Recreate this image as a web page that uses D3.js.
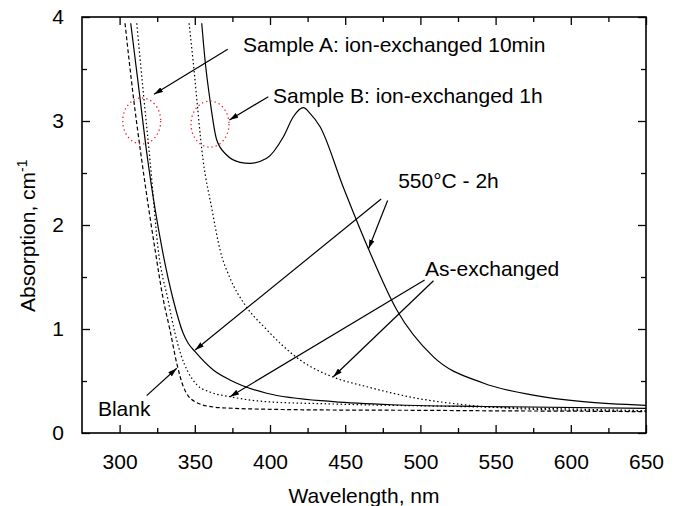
<!DOCTYPE html>
<html>
<head>
<meta charset="utf-8">
<script src="https://cdn.jsdelivr.net/npm/d3@7"></script>
<style>
  body { margin: 0; background: #fff; }
  svg { display: block; font-family: "Liberation Sans", Arial, sans-serif; }
</style>
</head>
<body>
<svg></svg>
<script>
// wavelength (nm) / absorption (cm-1)
const blankNm = [303.6, 309, 314.7, 323.6, 329.1, 333.5, 338, 342.4, 350.2, 362.3, 375.6, 400, 442, 500, 550, 600, 650];
const blankAbs = [3.94, 3.25, 2.625, 1.76, 1.279, 0.99, 0.67, 0.445, 0.30, 0.25, 0.2375, 0.228, 0.221, 0.218, 0.213, 0.21, 0.205];

const aAsNm = [311.4, 315.6, 320.2, 325.7, 332.2, 336.8, 340.8, 345.5, 351.5, 360.1, 373.4, 397.8, 442, 530.9, 650];
const aAsAbs = [3.94, 3.298, 2.625, 1.76, 1.279, 0.962, 0.75, 0.587, 0.462, 0.394, 0.349, 0.301, 0.279, 0.253, 0.214];

const aHeatNm = [307.4, 312.9, 318.7, 328.4, 335.7, 342.2, 345.5, 350.2, 362.3, 373.4, 397.8, 442.1, 486.5, 541.7, 650];
const aHeatAbs = [3.94, 3.298, 2.625, 1.76, 1.279, 0.962, 0.865, 0.782, 0.606, 0.51, 0.382, 0.301, 0.269, 0.255, 0.2375];

const bAsNm = [346.2, 348.8, 355.5, 361.5, 366.8, 373.4, 383.4, 396.7, 420, 441.9, 464.4, 497.6, 530.9, 575, 650];
const bAsAbs = [3.94, 3.587, 2.625, 2.144, 1.76, 1.49, 1.231, 1.01, 0.702, 0.538, 0.445, 0.334, 0.269, 0.228, 0.209];

const bHeatNm = [354.6, 356.8, 360.1, 364.6, 371.2, 380.1, 386.7, 397.8, 408.9, 415.5, 422.2, 426.6, 433.3, 448.6, 465.2, 484.3, 508.5, 541.7, 575, 608.2, 650];
const bHeatAbs = [3.94, 3.587, 3.202, 2.817, 2.673, 2.603, 2.593, 2.641, 2.849, 3.041, 3.128, 3.074, 2.945, 2.368, 1.779, 1.183, 0.734, 0.481, 0.365, 0.301, 0.266];

const xTicks = [300, 350, 400, 450, 500, 550, 600, 650];
const xMinorTicks = [325, 375, 425, 475, 525, 575, 625];
const yTicks = [0, 1, 2, 3, 4];
const yMinorTicks = [0.5, 1.5, 2.5, 3.5];

// annotation text and arrows, in data units
const labelText = ['Sample A: ion-exchanged 10min', 'Sample B: ion-exchanged 1h', '550\u00B0C - 2h', 'As-exchanged', 'Blank'];
const labelPos = [[382.1, 3.663], [402, 3.173], [485.2, 2.356], [503.1, 1.51], [285.6, 0.163]];
const arrowFrom = [[371.9, 3.689], [398.9, 3.234], [473.9, 2.25], [478.2, 2.236], [502.8, 1.471], [508.7, 1.464], [318, 0.359]];
const arrowTo = [[322.9, 3.257], [373, 3.01], [350.2, 0.798], [465.6, 1.774], [373.4, 0.349], [442.1, 0.541], [338, 0.622]];
const circleCenter = [[314.7, 3.0], [360.1, 2.97]];

const width = 678;
const height = 506;
const margin = {left: 82, right: 32, top: 17, bottom: 73};

let xScale;
let yScale;

const svg = d3.select('svg');

const drawCanvas = () => {
  svg.attr('width', width).attr('height', height);
}

const generateScales = () => {
  xScale = d3.scaleLinear().domain([275, 650]).range([margin.left, width - margin.right]);
  yScale = d3.scaleLinear().domain([0, 4]).range([height - margin.bottom, margin.top]);
}

const drawLines = () => {
  const series = [
    {nm: blankNm, abs: blankAbs, dash: '4,2.5'},
    {nm: aAsNm, abs: aAsAbs, dash: '1.5,2.5'},
    {nm: aHeatNm, abs: aHeatAbs, dash: null},
    {nm: bAsNm, abs: bAsAbs, dash: '1.5,2.5'},
    {nm: bHeatNm, abs: bHeatAbs, dash: null}
  ];

  const line = d3.line()
                 .x((d) => xScale(d[0]))
                 .y((d) => yScale(d[1]))
                 .curve(d3.curveMonotoneX);

  svg.append('g')
     .selectAll('path')
     .data(series)
     .enter()
     .append('path')
     .attr('d', (s) => line(s.nm.map((v, i) => [v, s.abs[i]])))
     .attr('fill', 'none')
     .attr('stroke', '#000')
     .attr('stroke-width', 1.2)
     .attr('stroke-dasharray', (s) => s.dash);
}

const generateAxes = () => {
  const bottom = height - margin.bottom;
  const right = width - margin.right;

  const addAxis = (axis, transform) => {
    const g = svg.append('g')
                 .attr('transform', transform)
                 .call(axis)
    g.select('.domain').remove();
    g.selectAll('line').attr('stroke', '#000').attr('stroke-width', 1.3);
    g.selectAll('text').attr('font-size', 21).attr('fill', '#000').attr('font-family', null);
    return g;
  }

  addAxis(d3.axisBottom(xScale).tickValues(xTicks).tickSize(-8).tickPadding(21), 'translate(0,' + bottom + ')');
  addAxis(d3.axisBottom(xScale).tickValues(xMinorTicks).tickSize(-5).tickFormat(''), 'translate(0,' + bottom + ')');
  addAxis(d3.axisTop(xScale).tickValues(xTicks).tickSize(-8).tickFormat(''), 'translate(0,' + margin.top + ')');
  addAxis(d3.axisTop(xScale).tickValues(xMinorTicks).tickSize(-5).tickFormat(''), 'translate(0,' + margin.top + ')');

  addAxis(d3.axisLeft(yScale).tickValues(yTicks).tickSize(-8).tickPadding(18).tickFormat(d3.format('d')), 'translate(' + margin.left + ',0)');
  addAxis(d3.axisLeft(yScale).tickValues(yMinorTicks).tickSize(-5).tickFormat(''), 'translate(' + margin.left + ',0)');
  addAxis(d3.axisRight(yScale).tickValues(yTicks).tickSize(-8).tickFormat(''), 'translate(' + right + ',0)');
  addAxis(d3.axisRight(yScale).tickValues(yMinorTicks).tickSize(-5).tickFormat(''), 'translate(' + right + ',0)');

  svg.append('rect')
     .attr('x', margin.left)
     .attr('y', margin.top)
     .attr('width', right - margin.left)
     .attr('height', bottom - margin.top)
     .attr('fill', 'none')
     .attr('stroke', '#000')
     .attr('stroke-width', 1.6);

  svg.append('text')
     .attr('x', (margin.left + right) / 2)
     .attr('y', 503)
     .attr('text-anchor', 'middle')
     .attr('font-size', 21)
     .text('Wavelength, nm');

  const yTitle = svg.append('text')
                    .attr('transform', 'translate(35,312) rotate(-90)')
                    .attr('font-size', 21)
  yTitle.append('tspan').text('Absorption, cm');
  yTitle.append('tspan').attr('font-size', 14).attr('dy', -8).text('-1');
}

const drawAnnotations = () => {
  svg.append('defs')
     .append('marker')
     .attr('id', 'head')
     .attr('viewBox', '0 0 10 6')
     .attr('refX', 10)
     .attr('refY', 3)
     .attr('markerUnits', 'userSpaceOnUse')
     .attr('markerWidth', 9)
     .attr('markerHeight', 5.4)
     .attr('orient', 'auto')
     .append('path')
     .attr('d', 'M0,0 L10,3 L0,6 Z')
     .attr('fill', '#000');

  svg.append('g')
     .selectAll('line')
     .data(arrowFrom)
     .enter()
     .append('line')
     .attr('x1', (d) => xScale(d[0]))
     .attr('y1', (d) => yScale(d[1]))
     .attr('x2', (d, i) => xScale(arrowTo[i][0]))
     .attr('y2', (d, i) => yScale(arrowTo[i][1]))
     .attr('stroke', '#000')
     .attr('stroke-width', 1.2)
     .attr('marker-end', 'url(#head)');

  svg.append('g')
     .selectAll('ellipse')
     .data(circleCenter)
     .enter()
     .append('ellipse')
     .attr('cx', (d) => xScale(d[0]))
     .attr('cy', (d) => yScale(d[1]))
     .attr('rx', 19)
     .attr('ry', 23)
     .attr('fill', 'none')
     .attr('stroke', '#e8202a')
     .attr('stroke-width', 1.3)
     .attr('stroke-dasharray', '1.3,3');

  svg.append('g')
     .selectAll('text')
     .data(labelText)
     .enter()
     .append('text')
     .attr('x', (d, i) => xScale(labelPos[i][0]))
     .attr('y', (d, i) => yScale(labelPos[i][1]))
     .attr('font-size', 21)
     .text((d) => d);
}

drawCanvas();
generateScales();
drawLines();
generateAxes();
drawAnnotations();
</script>
</body>
</html>
